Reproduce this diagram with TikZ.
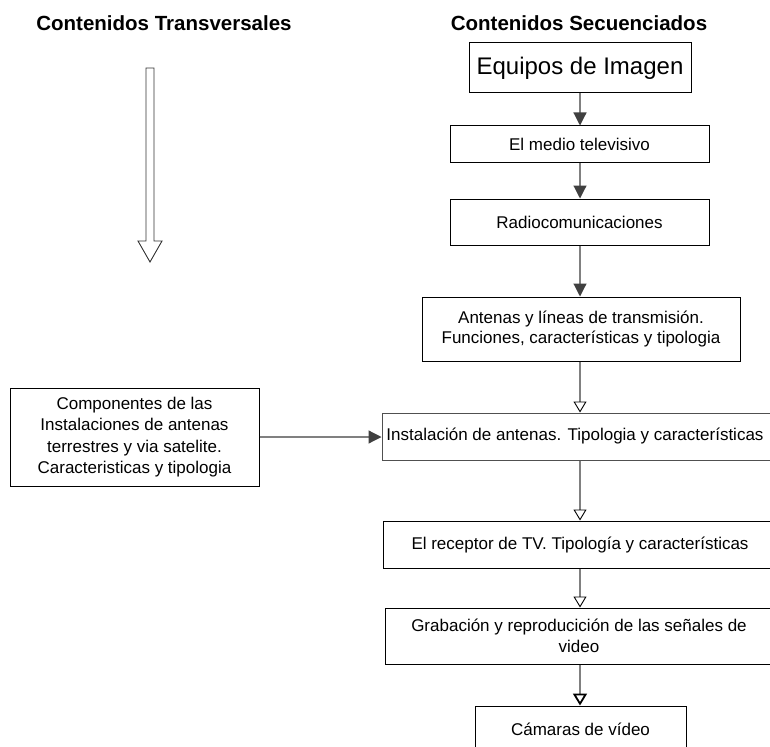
\documentclass[tikz,border=0pt]{standalone}
\usepackage{fontspec}
\setmainfont{Liberation Sans}
\usetikzlibrary{arrows.meta}
\definecolor{linegray}{HTML}{808080}
\definecolor{tipgray}{HTML}{404040}
\definecolor{boxgray}{HTML}{505050}
\tikzset{
  box/.style={draw=black, line width=1pt, align=center, inner sep=0pt,
    font=\fontsize{17}{21}\selectfont},
  title/.style={font=\fontsize{20.5}{24}\selectfont\bfseries, inner sep=0pt},
  fillarrow/.style={draw=linegray, line width=1.2pt,
    -{Triangle[length=13pt,width=13pt,fill=tipgray,color=tipgray]}},
  openarrow/.style={draw=linegray, line width=1.2pt,
    -{Triangle[open,length=11pt,width=13pt,color=black,line width=0.9pt]}},
  boldopen/.style={draw=linegray, line width=1.2pt,
    -{Triangle[open,length=12pt,width=14pt,color=black,line width=1.8pt]}}
}
\begin{document}
\begin{tikzpicture}[x=1pt,y=-1pt]
\useasboundingbox (0,0) rectangle (770,746);
\clip (0,0) rectangle (770,746);
\fill[white] (0,0) rectangle (770,746);
% titles
\node[title] (t1) at (164,23) {Contenidos Transversales};
\node[title] (t2) at (579,23) {Contenidos Secuenciados};
% big hollow arrow
\draw[line width=0.9pt, draw=black!80] (146,68) -- (154,68) -- (154,241) -- (162,241)
  -- (150,262) -- (138,241) -- (146,241) -- cycle;
% column coordinate
\coordinate (col) at (580,0);
% boxes
\node[box, minimum width=222pt, minimum height=50pt,
      font=\fontsize{24}{28}\selectfont] (eq) at (580,68) {Equipos de Imagen};
\node[box, minimum width=259pt, minimum height=37pt] (medio) at (579.5,144.5) {El medio televisivo};
\node[box, minimum width=259pt, minimum height=46pt] (radio) at (579.5,222) {Radiocomunicaciones};
\node[box, minimum width=318pt, minimum height=64pt,
      font=\fontsize{17}{20}\selectfont] (ant) at (581,329)
  {Antenas y líneas de transmisión.\\Funciones, características y tipologia};
\node[box, minimum width=249pt, minimum height=98pt,
      font=\fontsize{17}{21.5}\selectfont] (comp) at (134.5,437)
  {Componentes de las\\Instalaciones de antenas\\terrestres y via satelite.\\Caracteristicas y tipologia};
\node[box, draw=boxgray, minimum width=410pt, minimum height=47pt] (inst) at (587,436.5)
  {\kern-24pt Instalación de antenas. Tipologia y características};
\node[box, minimum width=394pt, minimum height=47pt] (recv) at (580,544.5)
  {El receptor de TV. Tipología y características};
\node[box, minimum width=388pt, minimum height=56pt] (grab) at (579,636)
  {Grabación y reproducición de las señales de\\video};
\node[box, minimum width=211pt, minimum height=46pt] (cam) at (580.5,729)
  {Cámaras de vídeo};
% connectors
\draw[fillarrow] (eq.south -| col) -- (medio.north -| col);
\draw[fillarrow] (medio.south -| col) -- (radio.north -| col);
\draw[fillarrow] (radio.south -| col) -- (ant.north -| col);
\draw[openarrow] (ant.south -| col) -- (inst.north -| col);
\draw[openarrow] (inst.south -| col) -- (recv.north -| col);
\draw[openarrow] (recv.south -| col) -- (grab.north -| col);
\draw[boldopen] (grab.south -| col) -- (cam.north -| col);
\draw[fillarrow] (comp.east) -- (comp.east -| inst.west);
\end{tikzpicture}
\end{document}
